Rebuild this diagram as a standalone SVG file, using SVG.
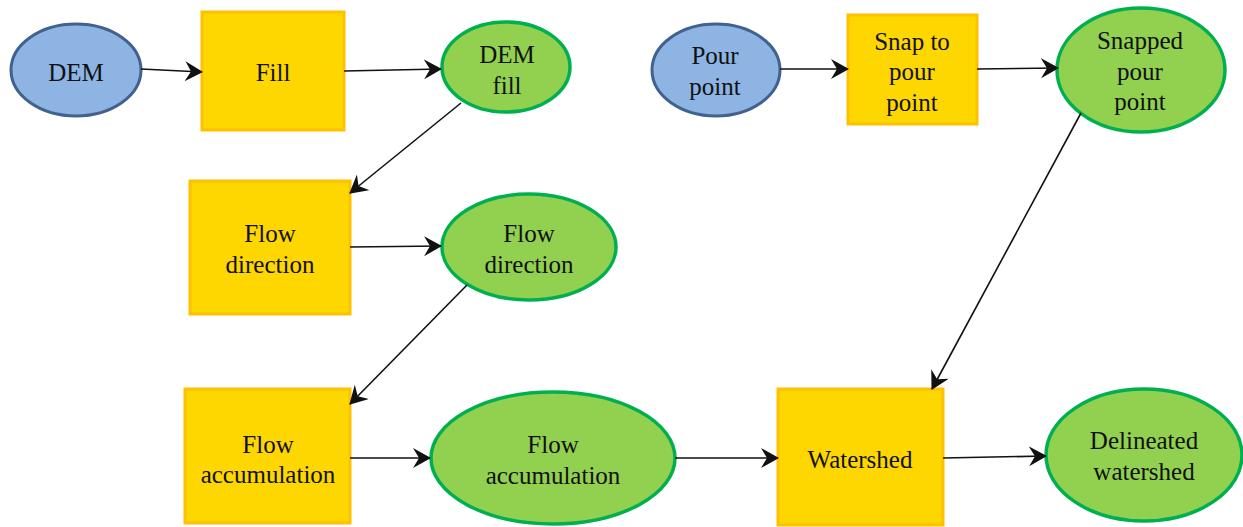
<svg xmlns="http://www.w3.org/2000/svg" width="1243" height="527" viewBox="0 0 1243 527">
<style>
.in{fill:#8eb4e3;stroke:#41618e;stroke-width:3}
.tool{fill:#ffd700;stroke:#ffc000;stroke-width:3}
.out{fill:#92d050;stroke:#00b050;stroke-width:3.5}
text{font-family:"Liberation Serif",serif;font-size:25px;fill:#111;text-anchor:middle;dominant-baseline:central}
.c line{stroke:#111;stroke-width:1.6;marker-end:url(#ah)}
</style>
<defs>
<marker id="ah" markerWidth="22" markerHeight="22" refX="17" refY="10" orient="auto" markerUnits="userSpaceOnUse">
<path d="M0,0 L18,10 L0,20 L6,10 Z" fill="#111"/>
</marker>
</defs>
<rect width="1243" height="527" fill="#fff"/>
<g id="dem"><ellipse class="in" cx="76" cy="70" rx="65" ry="46"/><text x="76" y="72">DEM</text></g>
<g id="fill"><rect class="tool" x="202" y="12" width="142" height="118"/><text x="273" y="72">Fill</text></g>
<g id="demfill"><ellipse class="out" cx="506" cy="67" rx="64" ry="45"/><text x="507" y="54">DEM</text><text x="507" y="85">fill</text></g>
<g id="pourpoint"><ellipse class="in" cx="716" cy="70" rx="64" ry="46"/><text x="715" y="55">Pour</text><text x="715" y="86">point</text></g>
<g id="snap"><rect class="tool" x="848" y="15" width="129" height="109"/><text x="912" y="41">Snap to</text><text x="912" y="71">pour</text><text x="912" y="102">point</text></g>
<g id="snapped"><ellipse class="out" cx="1141" cy="70" rx="84" ry="62"/><text x="1140" y="40">Snapped</text><text x="1140" y="71">pour</text><text x="1140" y="101">point</text></g>
<g id="flowdirtool"><rect class="tool" x="190" y="181" width="160" height="133"/><text x="270" y="233">Flow</text><text x="270" y="264">direction</text></g>
<g id="flowdir"><ellipse class="out" cx="529" cy="247" rx="87" ry="53"/><text x="529" y="233">Flow</text><text x="529" y="264">direction</text></g>
<g id="flowacctool"><rect class="tool" x="185" y="389" width="165" height="134"/><text x="268" y="444">Flow</text><text x="268" y="474">accumulation</text></g>
<g id="flowacc"><ellipse class="out" cx="553" cy="458" rx="122" ry="66"/><text x="553" y="444">Flow</text><text x="553" y="475">accumulation</text></g>
<g id="watershed"><rect class="tool" x="778" y="389" width="165" height="136"/><text x="860" y="459">Watershed</text></g>
<g id="delineated"><ellipse class="out" cx="1144" cy="455" rx="98" ry="66"/><text x="1144" y="440">Delineated</text><text x="1144" y="471">watershed</text></g>
<g class="c" id="connectors">
<line x1="141" y1="69" x2="202" y2="72"/>
<line x1="344" y1="71" x2="441" y2="69"/>
<line x1="461" y1="103" x2="350" y2="193"/>
<line x1="350" y1="247" x2="441" y2="246"/>
<line x1="467" y1="285" x2="350" y2="404"/>
<line x1="350" y1="458" x2="430" y2="458"/>
<line x1="675" y1="458" x2="778" y2="458"/>
<line x1="943" y1="458" x2="1046" y2="456"/>
<line x1="780" y1="69" x2="848" y2="69"/>
<line x1="977" y1="69" x2="1058" y2="68"/>
<line x1="1081" y1="113" x2="932" y2="389"/>
</g>
</svg>
